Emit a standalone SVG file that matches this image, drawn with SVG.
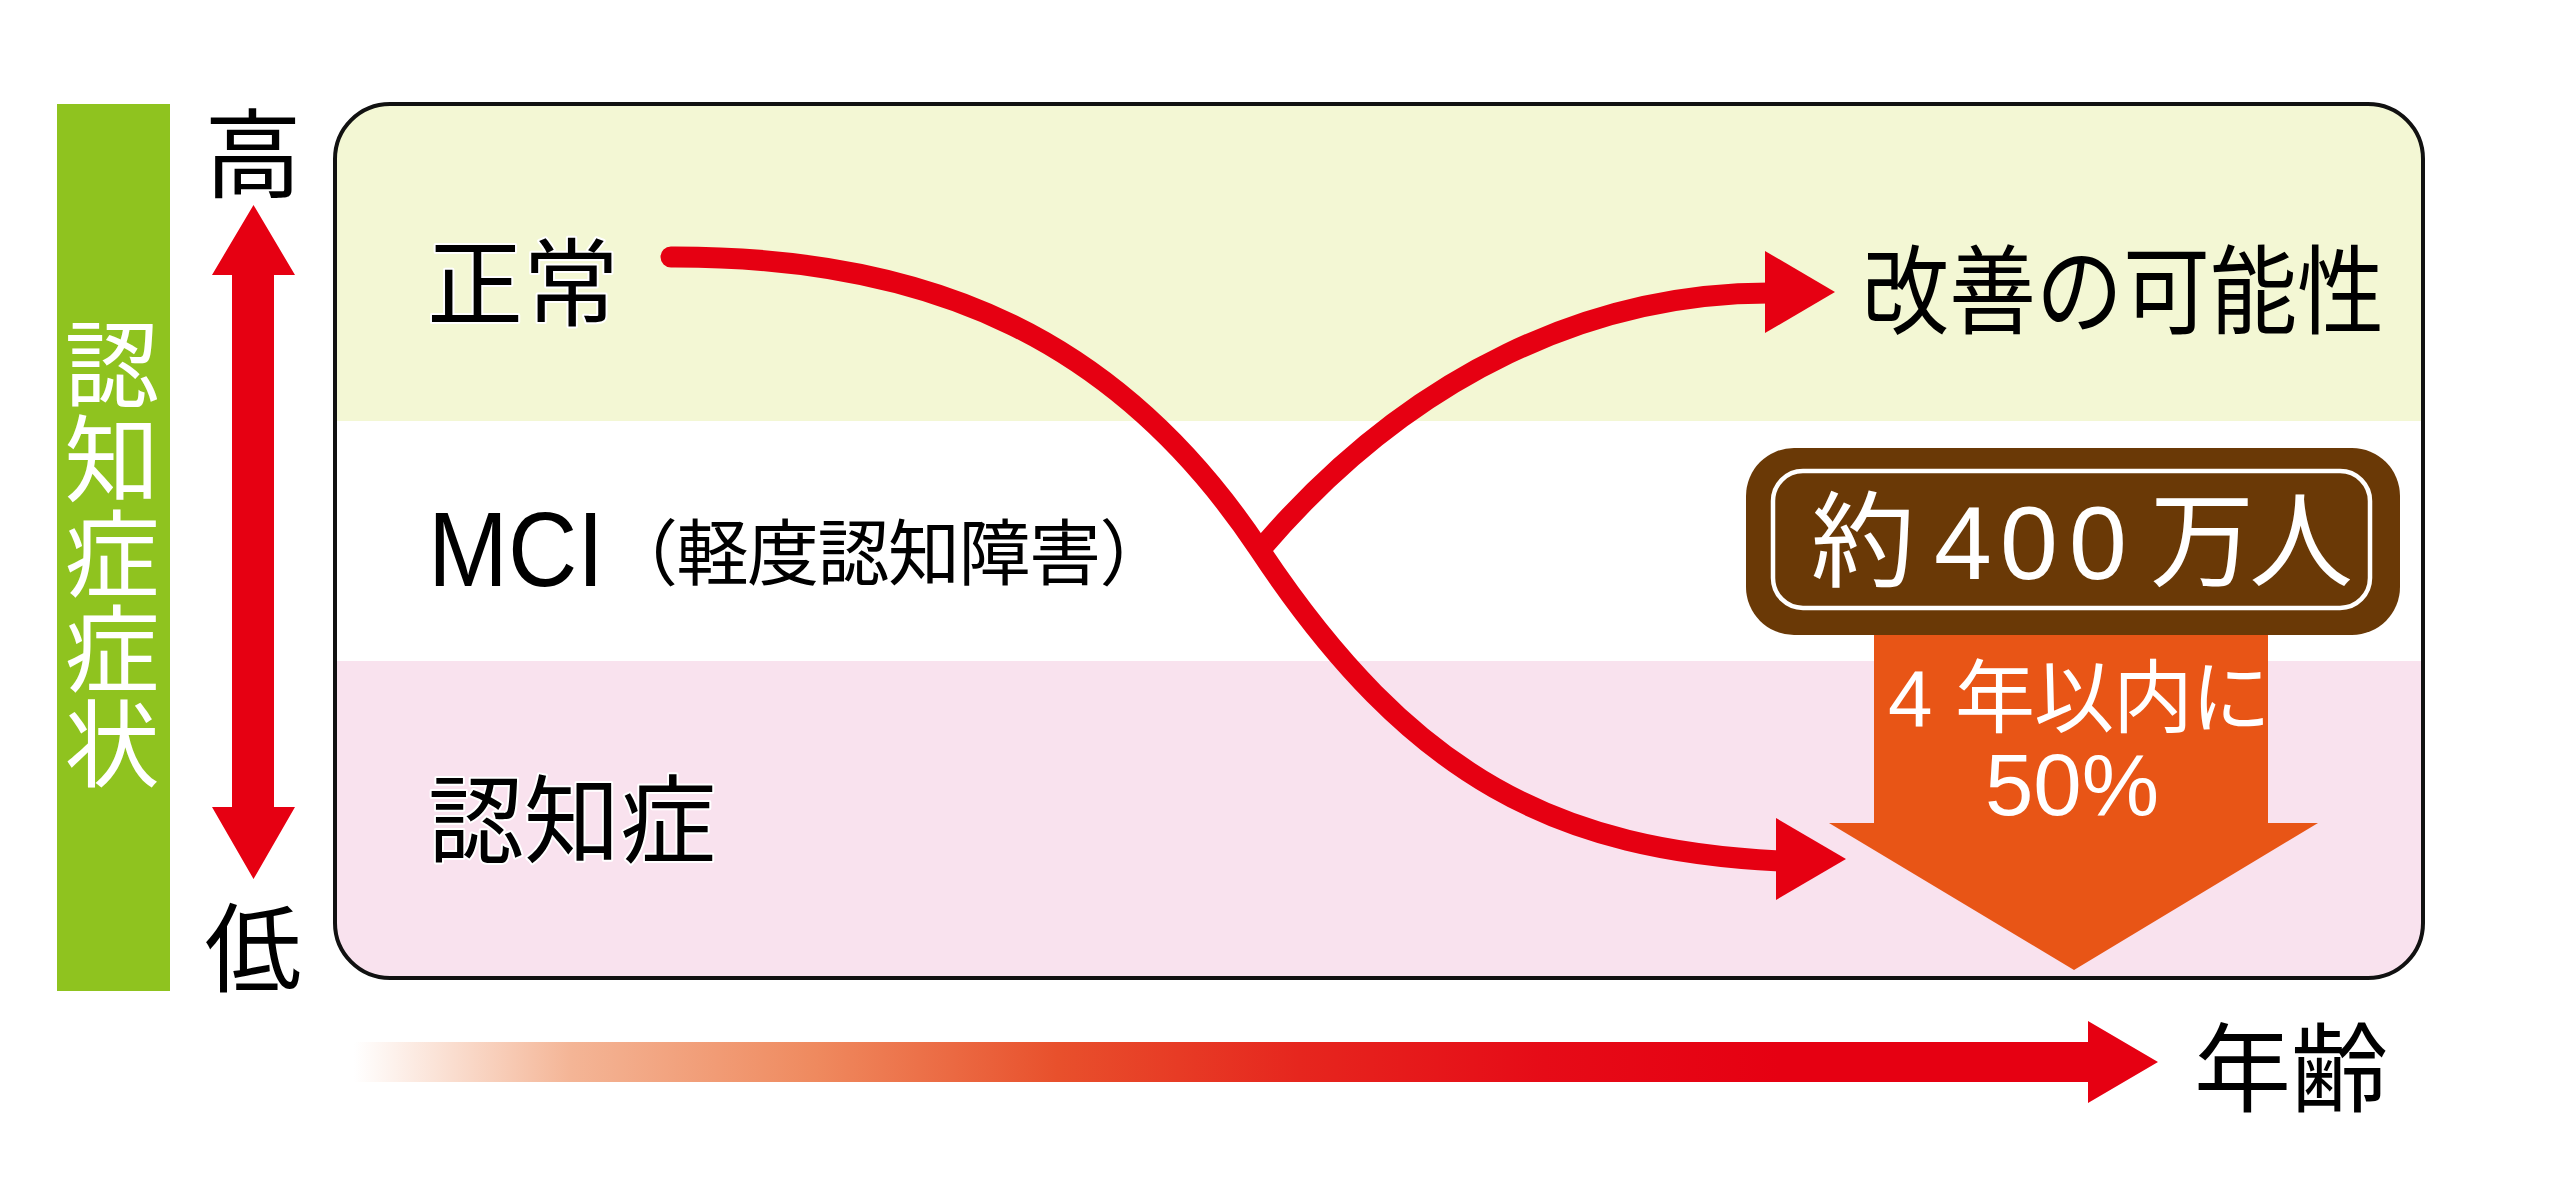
<svg xmlns="http://www.w3.org/2000/svg" width="2572" height="1192" viewBox="0 0 2572 1192">
<style>
.jp{font-family:"Noto Sans CJK JP","Noto Sans CJK SC",sans-serif}
.lat{font-family:"Liberation Sans","Noto Sans CJK JP",sans-serif}
.blk{fill:#000}
.halo{stroke:#fff;stroke-width:4;paint-order:stroke;stroke-linejoin:round}
.wht{fill:#fff}
.curve{fill:none;stroke:#e60012;stroke-width:21}
.head{fill:#e60012}
</style>
<defs>
<clipPath id="boxclip"><rect x="335" y="104" width="2088" height="874" rx="55"/></clipPath>
<linearGradient id="age" gradientUnits="userSpaceOnUse" x1="354" y1="0" x2="2158" y2="0">
<stop offset="0" stop-color="#ffffff"/>
<stop offset="0.12" stop-color="#f4b596"/>
<stop offset="0.255" stop-color="#ef8a5f"/>
<stop offset="0.39" stop-color="#e8502c"/>
<stop offset="0.524" stop-color="#e6261e"/>
<stop offset="0.66" stop-color="#e60b17"/>
<stop offset="0.79" stop-color="#e60012"/>
<stop offset="1" stop-color="#e60012"/>
</linearGradient>
</defs>
<rect x="0" y="0" width="2572" height="1192" fill="#fff"/>

<g id="side-bar">
<rect x="57" y="104" width="113" height="887" fill="#8fc31f"/>
<text class="jp wht" font-size="95" writing-mode="vertical-rl" x="112" y="316">認知症症状</text>
</g>

<g id="axis-y">
<text class="jp blk" font-size="97" text-anchor="middle" x="253" y="190">高</text>
<polygon class="head" points="253.5,205 295,275 274,275 274,807 295,807 253.5,879 212,807 232,807 232,275 212,275"/>
<text class="jp blk" font-size="97" text-anchor="middle" x="253" y="984">低</text>
</g>

<g id="chart-box">
<g clip-path="url(#boxclip)">
<rect x="335" y="104" width="2088" height="317" fill="#f3f7d4"/>
<rect x="335" y="421" width="2088" height="240" fill="#ffffff"/>
<rect x="335" y="661" width="2088" height="317" fill="#f9e2ee"/>
</g>
<rect x="335" y="104" width="2088" height="874" rx="55" fill="none" stroke="#111" stroke-width="4"/>
</g>

<g id="node-normal"><text class="jp blk halo" font-size="96" x="427" y="318">正常</text></g>
<g id="node-mci">
<text class="lat blk halo" font-size="106" x="428" y="586" textLength="176" lengthAdjust="spacingAndGlyphs">MCI</text>
<text class="jp blk halo" font-size="72" x="606" y="579" letter-spacing="-1.5">（軽度認知障害）</text>
</g>
<g id="node-dementia"><text class="jp blk halo" font-size="96" x="428" y="855">認知症</text></g>
<g id="node-improve"><text class="jp blk" font-size="97" x="1862" y="326" textLength="522" lengthAdjust="spacingAndGlyphs">改善の可能性</text></g>

<g id="node-rate">
<polygon points="1874,620 2268,620 2268,823 2318,823 2074,970 1829,823 1874,823" fill="#e85516"/>
<text class="lat wht" font-size="80" y="726" x="1888 1935 1955 2034 2113 2191">4 年以内に</text>
<text class="lat wht" font-size="87" y="815" x="2072" text-anchor="middle">50%</text>
</g>

<g id="node-400">
<rect x="1746" y="448" width="654" height="187" rx="48" fill="#6a3906"/>
<rect x="1773" y="471" width="597" height="137" rx="30" fill="none" stroke="#fff" stroke-width="4.5"/>
<text class="lat wht" font-size="104" y="579" x="1811 1915 1934 2000 2069 2130 2150 2249">約 400 万人</text>
</g>

<g id="connectors">
<path class="curve" d="M1255,556 C1413,367 1600,293 1769,293"/>
<path class="curve" stroke-linecap="round" d="M671,257 C935,256 1121,342 1259,549 C1413,781 1560,850 1780,861"/>
<polygon class="head" points="1765,251 1835,292 1765,333"/>
<polygon class="head" points="1776,818 1846,859 1776,900"/>
</g>

<g id="axis-x">
<polygon points="354,1042 2088,1042 2088,1021 2158,1062 2088,1103 2088,1082 354,1082" fill="url(#age)"/>
<text class="jp blk" font-size="97" x="2194" y="1104">年齢</text>
</g>
</svg>
